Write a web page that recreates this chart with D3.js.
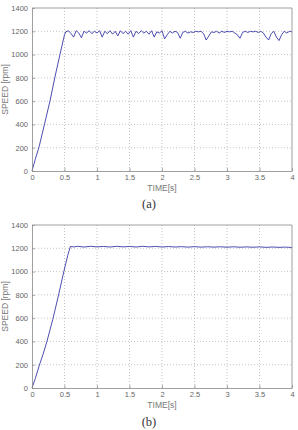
<!DOCTYPE html>
<html>
<head>
<meta charset="utf-8">
<script src="https://cdn.jsdelivr.net/npm/d3@7"></script>
<style>
  body { margin: 0; background: #fff; }
  svg { display: block; }
  .tick text { font-family: "Liberation Sans", Arial, sans-serif; font-size: 7.5px; fill: #666; }
  .lbl { font-family: "Liberation Sans", Arial, sans-serif; font-size: 8.5px; fill: #777; }
  .cap { font-family: "Liberation Serif", "Times New Roman", serif; font-size: 12.5px; fill: #333; }
</style>
</head>
<body>
<svg id="chart" width="298" height="430"></svg>
<script>
// tick values shared by both panels
var xTicks = [0, 0.5, 1, 1.5, 2, 2.5, 3, 3.5, 4];
var yTicks = [0, 200, 400, 600, 800, 1000, 1200, 1400];
var xTickLabels = ['0', '0.5', '1', '1.5', '2', '2.5', '3', '3.5', '4'];

// panel (a) speed trace
var timeA = [0, 0.05, 0.11, 0.2, 0.28, 0.35, 0.43, 0.5,
  0.52, 0.56, 0.60, 0.64, 0.68, 0.72, 0.76, 0.80, 0.84, 0.88, 0.92, 0.96,
  1.00, 1.04, 1.08, 1.12, 1.16, 1.20, 1.24, 1.28, 1.32, 1.36, 1.40, 1.44, 1.48,
  1.52, 1.56, 1.60, 1.64, 1.68, 1.72, 1.76, 1.80, 1.84, 1.88, 1.92, 1.96,
  2.00, 2.04, 2.08, 2.12, 2.16, 2.20, 2.24, 2.28, 2.32, 2.36, 2.40, 2.44, 2.48,
  2.52, 2.56, 2.60, 2.64, 2.68, 2.72, 2.76, 2.80, 2.84, 2.88, 2.92, 2.96,
  3.00, 3.04, 3.08, 3.12, 3.16, 3.20, 3.24, 3.28, 3.32, 3.36, 3.40, 3.44, 3.48,
  3.52, 3.56, 3.60, 3.64, 3.68, 3.72, 3.76, 3.80, 3.84, 3.88, 3.92, 3.96, 4.00];
var speedA = [0, 100, 210, 420, 610, 800, 1000, 1170,
  1195, 1205, 1180, 1150, 1205, 1185, 1145, 1200, 1185, 1205, 1180, 1200,
  1185, 1205, 1150, 1200, 1180, 1205, 1175, 1200, 1160, 1205, 1180, 1200, 1175,
  1205, 1150, 1200, 1180, 1205, 1185, 1200, 1175, 1205, 1150, 1195, 1185,
  1205, 1135, 1170, 1200, 1185, 1200, 1190, 1140, 1190, 1200, 1185, 1195, 1190,
  1200, 1195, 1200, 1180, 1125, 1160, 1195, 1190, 1200, 1185, 1200, 1190,
  1200, 1195, 1200, 1185, 1170, 1140, 1190, 1200, 1190, 1200, 1195, 1200, 1190,
  1200, 1185, 1150, 1125, 1180, 1200, 1150, 1120, 1170, 1200, 1185, 1200, 1195];

// panel (b) speed trace
var timeB = [0, 0.05, 0.11, 0.17, 0.23, 0.32, 0.405, 0.49, 0.55, 0.59,
  0.65, 0.7, 0.8, 0.9, 1.0, 1.1, 1.2, 1.3, 1.4, 1.5, 1.6, 1.7, 1.8, 1.9, 2.0,
  2.1, 2.2, 2.3, 2.4, 2.5, 2.6, 2.7, 2.8, 2.9, 3.0, 3.1, 3.2, 3.3, 3.4, 3.5,
  3.6, 3.7, 3.8, 3.9, 4.0];
var speedB = [0, 80, 190, 290, 400, 590, 790, 1000, 1140, 1215,
  1212, 1217, 1211, 1217, 1212, 1216, 1211, 1217, 1212, 1216, 1211, 1217, 1212, 1216, 1211,
  1215, 1211, 1214, 1210, 1214, 1210, 1213, 1210, 1213, 1209, 1213, 1209, 1212, 1209, 1212,
  1208, 1211, 1208, 1210, 1207];

var svg = d3.select('#chart');

function drawPanel(top, bottom, times, speeds, caption, captionY) {
  var x = d3.scaleLinear().domain([0, 4]).range([32, 292]);
  var y = d3.scaleLinear().domain([0, 1400]).range([bottom, top]);
  var g = svg.append('g');

  // dotted grid
  g.selectAll('.gx').data(xTicks.slice(1, -1)).enter().append('line')
    .attr('x1', function(d) { return x(d); }).attr('x2', function(d) { return x(d); })
    .attr('y1', top).attr('y2', bottom)
    .attr('stroke', '#aaa').attr('stroke-width', 0.7).attr('stroke-dasharray', '1,2');
  g.selectAll('.gy').data(yTicks.slice(1, -1)).enter().append('line')
    .attr('x1', 32).attr('x2', 292)
    .attr('y1', function(d) { return y(d); }).attr('y2', function(d) { return y(d); })
    .attr('stroke', '#aaa').attr('stroke-width', 0.7).attr('stroke-dasharray', '1,2');

  // speed trace
  var line = d3.line()
    .x(function(d, i) { return x(times[i]); })
    .y(function(d) { return y(d); });
  g.append('path').datum(speeds)
    .attr('d', line)
    .attr('fill', 'none')
    .attr('stroke', '#3a3aa8')
    .attr('stroke-width', 0.9);

  // axes (ticks point inward like matlab)
  var xAxis = d3.axisBottom(x).tickValues(xTicks)
    .tickFormat(function(d, i) { return xTickLabels[i]; })
    .tickSizeInner(-3).tickSizeOuter(0).tickPadding(4);
  var yAxis = d3.axisLeft(y).tickValues(yTicks).tickFormat(d3.format('d'))
    .tickSizeInner(-3).tickSizeOuter(0).tickPadding(4);

  var gx = g.append('g').attr('transform', 'translate(0,' + bottom + ')').call(xAxis);
  var gy = g.append('g').attr('transform', 'translate(32,0)').call(yAxis);
  [gx, gy].forEach(function(a) {
    a.select('.domain').attr('stroke', '#888').attr('stroke-width', 0.8);
    a.selectAll('.tick line').attr('stroke', '#888').attr('stroke-width', 0.7);
  });
  // inward ticks leave labels hugging the axis, push them back out
  gx.selectAll('.tick text').attr('y', 4);

  // top and right border
  g.append('line').attr('x1', 32).attr('x2', 292).attr('y1', top).attr('y2', top)
    .attr('stroke', '#888').attr('stroke-width', 0.8);
  g.append('line').attr('x1', 292).attr('x2', 292).attr('y1', top).attr('y2', bottom)
    .attr('stroke', '#888').attr('stroke-width', 0.8);

  // labels
  g.append('text').attr('class', 'lbl')
    .attr('x', 162).attr('y', bottom + 20)
    .attr('text-anchor', 'middle').text('TIME[s]');
  g.append('text').attr('class', 'lbl')
    .attr('transform', 'translate(8,' + ((top + bottom) / 2) + ') rotate(-90)')
    .attr('text-anchor', 'middle').text('SPEED [rpm]');
  g.append('text').attr('class', 'cap')
    .attr('x', 149).attr('y', captionY)
    .attr('text-anchor', 'middle').text(caption);
}

drawPanel(8, 171, timeA, speedA, '(a)', 208);
drawPanel(225, 388, timeB, speedB, '(b)', 426);
</script>
</body>
</html>
